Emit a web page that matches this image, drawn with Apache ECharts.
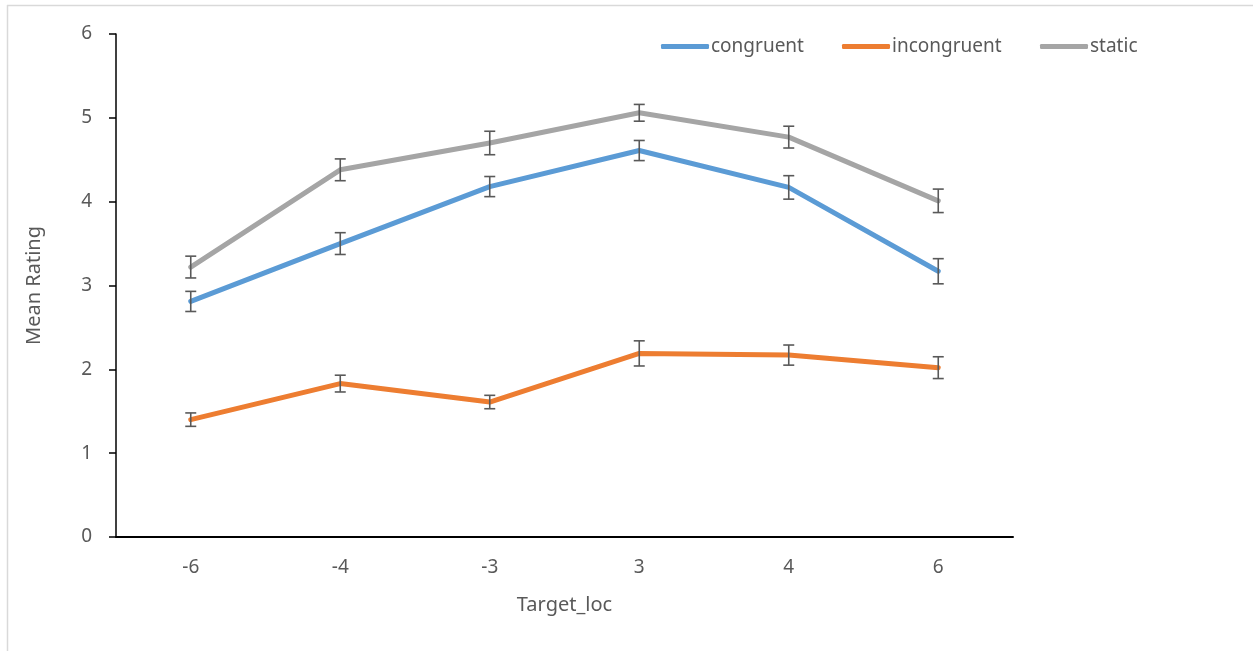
<!DOCTYPE html>
<html>
<head>
<meta charset="utf-8">
<script src="https://cdn.jsdelivr.net/npm/echarts@6/dist/echarts.min.js"></script>
<style>
  html, body { margin: 0; padding: 0; background: #fff; }
  #chart { width: 1253px; height: 651px; }
</style>
</head>
<body>
<div id="chart"></div>
<script>
// Target locations on the x axis
const categories = ['-6', '-4', '-3', '3', '4', '6'];

// Mean ratings per condition
const congruent   = [2.81, 3.50, 4.18, 4.61, 4.17, 3.17];
const incongruent = [1.40, 1.83, 1.61, 2.19, 2.17, 2.02];
const staticVals  = [3.22, 4.38, 4.70, 5.06, 4.77, 4.01];

// Standard errors per condition
const congruentErr   = [0.12, 0.13, 0.12, 0.12, 0.14, 0.15];
const incongruentErr = [0.08, 0.10, 0.08, 0.15, 0.12, 0.13];
const staticErr      = [0.13, 0.13, 0.14, 0.10, 0.13, 0.14];

const yTicks = [0, 1, 2, 3, 4, 5, 6];

const FONT = 'Noto Sans';
const GREY_TEXT = '#595959';

const seriesDefs = [
  { name: 'congruent',   values: congruent,   errors: congruentErr,   color: '#5B9BD5' },
  { name: 'incongruent', values: incongruent, errors: incongruentErr, color: '#ED7D31' },
  { name: 'static',      values: staticVals,  errors: staticErr,      color: '#A5A5A5' }
];

// Rows for the error-bar layer: [categoryIndex, low, high]
function errorRows(values, errors) {
  return values.map((v, i) => [i, v - errors[i], v + errors[i]]);
}

function renderErrorBar(params, api) {
  const i = api.value(0);
  const lo = api.coord([i, api.value(1)]);
  const hi = api.coord([i, api.value(2)]);
  const cap = 5.5;
  const style = { stroke: '#595959', lineWidth: 1.6, fill: null };
  return {
    type: 'group',
    children: [
      { type: 'line', shape: { x1: lo[0], y1: lo[1], x2: hi[0], y2: hi[1] }, style },
      { type: 'line', shape: { x1: lo[0] - cap, y1: lo[1], x2: lo[0] + cap, y2: lo[1] }, style },
      { type: 'line', shape: { x1: hi[0] - cap, y1: hi[1], x2: hi[0] + cap, y2: hi[1] }, style }
    ]
  };
}

const lineSeries = seriesDefs.map(d => ({
  name: d.name,
  type: 'line',
  data: d.values,
  symbol: 'none',
  smooth: false,
  z: 2,
  lineStyle: { color: d.color, width: 5, cap: 'round', join: 'round' },
  itemStyle: { color: d.color }
}));

const barSeries = seriesDefs.map(d => ({
  name: d.name + ' error',
  type: 'custom',
  renderItem: renderErrorBar,
  data: errorRows(d.values, d.errors),
  encode: { x: 0, y: [1, 2] },
  z: 5,
  silent: true
}));

const legendLefts = [661, 842, 1040];
const legends = seriesDefs.map((d, k) => ({
  data: [d.name],
  left: legendLefts[k],
  top: 37,
  padding: 0,
  icon: 'roundRect',
  itemWidth: 48,
  itemHeight: 5,
  selectedMode: false,
  textStyle: { fontFamily: FONT, fontSize: 19, color: GREY_TEXT, padding: [0, 0, 0, -3] }
}));

const chart = echarts.init(document.getElementById('chart'), null, { renderer: 'canvas' });
chart.setOption({
  animation: false,
  backgroundColor: '#ffffff',
  legend: legends,
  grid: { left: 116, right: 240, top: 34, bottom: 114, containLabel: false },
  xAxis: {
    type: 'category',
    data: categories,
    boundaryGap: true,
    name: 'Target_loc',
    nameLocation: 'middle',
    nameGap: 58,
    nameTextStyle: { fontFamily: FONT, fontSize: 20, color: GREY_TEXT },
    axisLine: { lineStyle: { color: '#000', width: 2 } },
    axisTick: { show: false },
    axisLabel: { fontFamily: FONT, fontSize: 19, color: GREY_TEXT, margin: 21 },
    splitLine: { show: false }
  },
  yAxis: {
    type: 'value',
    min: yTicks[0],
    max: yTicks[yTicks.length - 1],
    interval: 1,
    name: 'Mean Rating',
    nameLocation: 'middle',
    nameGap: 72,
    nameRotate: 90,
    nameTextStyle: { fontFamily: FONT, fontSize: 20, color: GREY_TEXT },
    axisLine: { show: true, lineStyle: { color: '#000', width: 1.5 } },
    axisTick: { show: true, inside: false, length: 7, lineStyle: { color: '#000', width: 1.5 } },
    axisLabel: { fontFamily: FONT, fontSize: 19, color: GREY_TEXT, margin: 24 },
    splitLine: { show: false }
  },
  graphic: [
    { type: 'line', silent: true, shape: { x1: 7.5, y1: 5, x2: 7.5, y2: 651 },
      style: { stroke: '#d9d9d9', lineWidth: 1.5 } },
    { type: 'line', silent: true, shape: { x1: 7, y1: 5.5, x2: 1253, y2: 5.5 },
      style: { stroke: '#d9d9d9', lineWidth: 1.5 } }
  ],
  series: lineSeries.concat(barSeries)
});
</script>
</body>
</html>
